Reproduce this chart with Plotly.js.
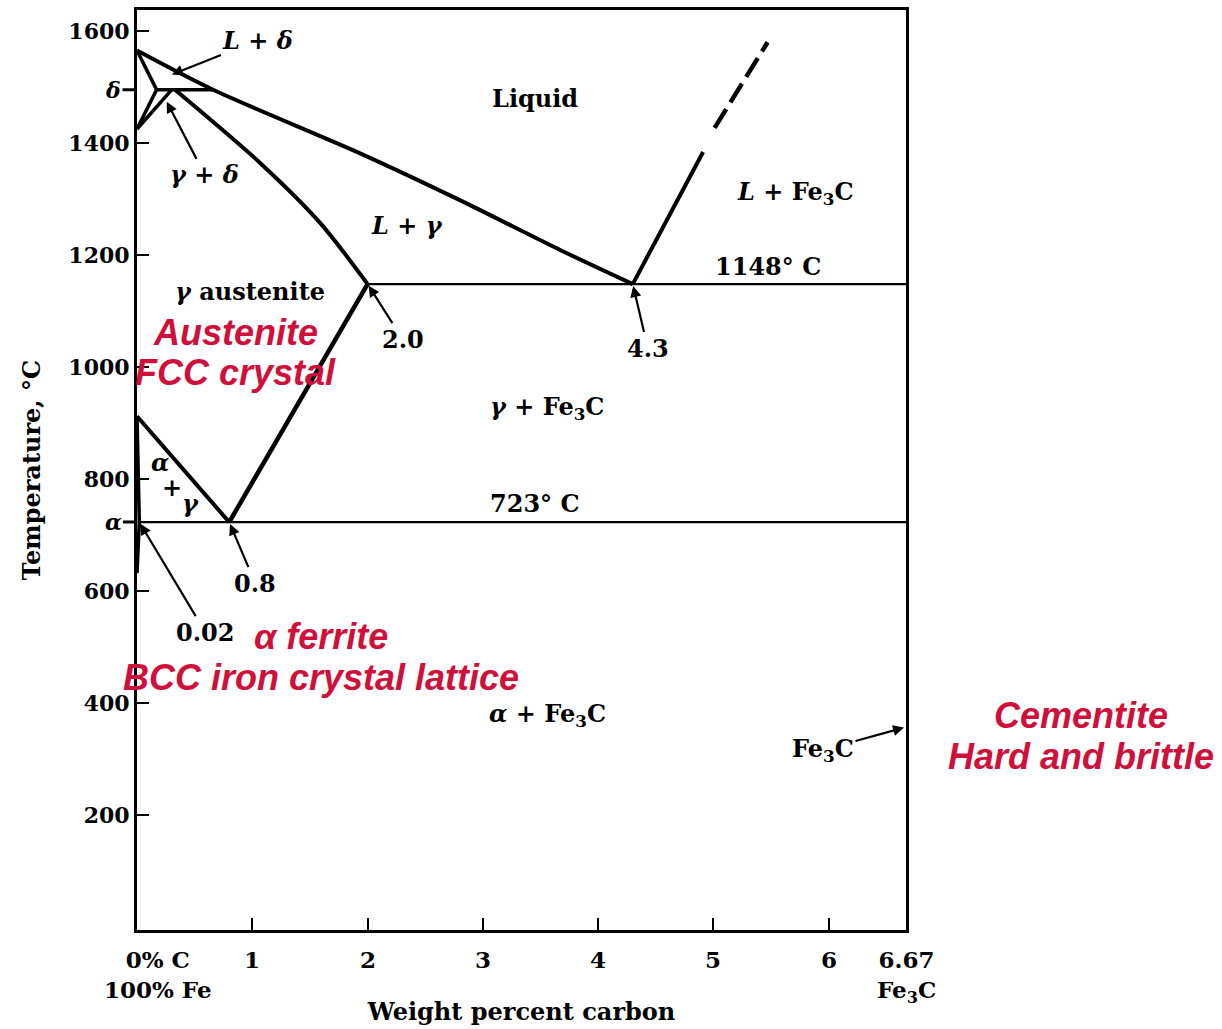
<!DOCTYPE html>
<html>
<head>
<meta charset="utf-8">
<script src="https://cdn.plot.ly/plotly-3.0.1.min.js"></script>
<style>
  html, body { margin: 0; padding: 0; background: #ffffff; }
  #chart { width: 1222px; height: 1029px; }
</style>
</head>
<body>
<div id="chart"></div>
<script>
// Iron–carbon (Fe–Fe3C) equilibrium diagram.
// Compositions in weight percent carbon, temperatures in °C.

// Liquidus from pure iron down to the eutectic
const liquidusC = [0, 0.66, 1.93, 2.80, 3.67, 4.3];
const liquidusT = [1565, 1495, 1382, 1298, 1209, 1148];

// Delta-iron field
const deltaSolidusC = [0, 0.17];
const deltaSolidusT = [1565, 1495];
const peritecticC = [0.17, 0.66];
const peritecticT = [1495, 1495];
const deltaBoundaryC = [0.17, 0];
const deltaBoundaryT = [1495, 1425];
const gammaDeltaC = [0.30, 0];
const gammaDeltaT = [1495, 1425];

// Austenite solidus
const solidusC = [0.33, 1.07, 1.59, 2.0];
const solidusT = [1495, 1364, 1257, 1148];

// Ferrite / austenite boundaries
const a3C = [0, 0.8];
const a3T = [912, 723];
const alphaGammaC = [0, 0.02];
const alphaGammaT = [912, 723];
const alphaSolvusC = [0.02, 0];
const alphaSolvusT = [723, 632];

// Carbon solubility in austenite (Acm)
const acmC = [0.8, 2.0];
const acmT = [723, 1148];

// Invariant isotherms
const eutecticC = [2.0, 6.67];
const eutecticT = [1148, 1148];
const eutectoidC = [0.02, 6.67];
const eutectoidT = [723, 723];

// Liquidus on the cementite side (solid, then extrapolated)
const cementiteLiqC = [4.3, 4.91];
const cementiteLiqT = [1148, 1384];
const cementiteLiqExtC = [5.01, 5.47];
const cementiteLiqExtT = [1427, 1580];

// Axis ticks
const xTickVals = [0, 1, 2, 3, 4, 5, 6, 6.67];
const xTickText = ['0% C<br>100% Fe', '1', '2', '3', '4', '5', '6', '6.67<br>Fe<sub>3</sub>C'];
const yTickVals = [200, 400, 600, 800, 1000, 1200, 1400, 1600];
const yTickText = ['200', '400', '600', '800', '1000', '1200', '1400', '1600'];

// Phase field names
const fieldText = ['Liquid', '<i>L</i> + <i>γ</i>', '<i>L</i> + Fe<sub>3</sub>C', '1148° C',
                   '<i>γ</i> austenite', '<i>γ</i> + Fe<sub>3</sub>C', '723° C', '<i>α</i> + Fe<sub>3</sub>C',
                   '<i>α</i>', '+', '<i>γ</i>'];
const fieldC = [3.45, 2.34, 5.71, 5.47, 0.98, 3.56, 3.45, 3.56, 0.20, 0.30, 0.46];
const fieldT = [1480, 1252, 1311, 1179, 1134, 927, 757, 379, 830, 784, 757];

// Labelled points (arrow tip at the point)
const pointText = ['<i>L</i> + <i>δ</i>', '<i>γ</i> + <i>δ</i>', '2.0', '4.3', '0.8', '0.02', 'Fe<sub>3</sub>C'];
const pointC = [0.286, 0.25, 2.0, 4.3, 0.8, 0.02, 6.67];
const pointT = [1521, 1477, 1148, 1148, 723, 723, 357];

// Extra temperature marks on the left axis
const markText = ['<i>δ</i>', '<i>α</i>'];
const markT = [1495, 723];

// Microstructure notes
const noteLines = [['Austenite', 'FCC crystal'], ['α ferrite', 'BCC iron crystal lattice'], ['Cementite', 'Hard and brittle']];
const noteC = [0.85, 1.60, null];
const noteT = [[1062, 991], [518, 446], [377, 304]];

// ---- styling ----
const SERIF = 'DejaVu Serif, Liberation Serif, serif';
const RED = '#d0103a';
const pointOffsets = [[88, -35], [39, 75], [35, 55], [15, 64], [26, 61], [66, 110], [-83, 23]];
const labelFont = { family: SERIF, size: 24, color: '#000', weight: 'bold' };

function seg(x, y, width, dash, shape) {
  return {
    x: x, y: y, type: 'scatter', mode: 'lines', hoverinfo: 'skip', showlegend: false,
    line: { color: '#000', width: width, dash: dash || 'solid', shape: shape || 'linear', smoothing: 0.8 }
  };
}

const traces = [
  seg(liquidusC, liquidusT, 4, null, 'spline'),
  seg(deltaSolidusC, deltaSolidusT, 3.5),
  seg(peritecticC, peritecticT, 3.5),
  seg(deltaBoundaryC, deltaBoundaryT, 3.5),
  seg(gammaDeltaC, gammaDeltaT, 3.5),
  seg(solidusC, solidusT, 4, null, 'spline'),
  seg(a3C, a3T, 4),
  seg(alphaGammaC, alphaGammaT, 3.5),
  seg(alphaSolvusC, alphaSolvusT, 3.5),
  seg(acmC, acmT, 4.5),
  seg(eutecticC, eutecticT, 2.2),
  seg(eutectoidC, eutectoidT, 2.2),
  seg(cementiteLiqC, cementiteLiqT, 4),
  seg(cementiteLiqExtC, cementiteLiqExtT, 4.5, '22px,8px')
];

const annotations = [];

// x tick labels
xTickVals.forEach(function (v, i) {
  annotations.push({
    x: v, y: 0, xref: 'x', yref: 'paper', yanchor: 'top', xanchor: 'center',
    xshift: i === 0 ? 21 : 0, yshift: -14,
    text: xTickText[i], showarrow: false,
    font: { family: SERIF, size: 23, color: '#000', weight: 'bold' }
  });
});

fieldText.forEach(function (t, i) {
  annotations.push({
    x: fieldC[i], y: fieldT[i], xref: 'x', yref: 'y', text: t, showarrow: false,
    font: labelFont
  });
});

pointText.forEach(function (t, i) {
  annotations.push({
    x: pointC[i], y: pointT[i], xref: 'x', yref: 'y', text: t,
    showarrow: true, arrowhead: 2, arrowsize: 1, arrowwidth: 2.2, arrowcolor: '#000',
    ax: pointOffsets[i][0], ay: pointOffsets[i][1], standoff: 2,
    font: labelFont
  });
});

markText.forEach(function (t, i) {
  annotations.push({
    x: 0, y: markT[i], xref: 'x', yref: 'y', text: t,
    showarrow: true, arrowhead: 0, arrowwidth: 3, arrowcolor: '#000',
    ax: -24, ay: 0, standoff: 0,
    font: { family: SERIF, size: 22, color: '#000', weight: 'bold' }
  });
});

noteLines.forEach(function (lines, i) {
  lines.forEach(function (line, j) {
    const a = {
      y: noteT[i][j], yref: 'y', text: '<b><i>' + line + '</i></b>', showarrow: false,
      xanchor: 'center',
      font: { family: 'Liberation Sans, Arial, sans-serif', size: 36, color: RED }
    };
    if (noteC[i] === null) { a.xref = 'paper'; a.x = 1.2276; }
    else { a.xref = 'x'; a.x = noteC[i]; }
    annotations.push(a);
  });
});

const layout = {
  width: 1222, height: 1029,
  margin: { l: 137, r: 316, t: 10, b: 99 },
  paper_bgcolor: '#fff', plot_bgcolor: '#fff',
  showlegend: false,
  xaxis: {
    range: [0, 6.67], showgrid: false, zeroline: false,
    showline: true, mirror: true, linecolor: '#000', linewidth: 3,
    ticks: 'inside', ticklen: 12, tickwidth: 2, tickcolor: '#000',
    tickvals: [1, 2, 3, 4, 5, 6], showticklabels: false,
    title: { text: 'Weight percent carbon', standoff: 72,
             font: { family: SERIF, size: 24, color: '#000', weight: 'bold' } }
  },
  yaxis: {
    range: [-5.4, 1637.5], showgrid: false, zeroline: false,
    showline: true, mirror: true, linecolor: '#000', linewidth: 3,
    ticks: 'inside', ticklen: 12, tickwidth: 2, tickcolor: '#000',
    tickvals: yTickVals, ticktext: yTickText,
    tickfont: { family: SERIF, size: 22, color: '#000', weight: 'bold' },
    title: { text: 'Temperature, °C', standoff: 21,
             font: { family: SERIF, size: 24, color: '#000', weight: 'bold' } }
  },
  annotations: annotations
};

Plotly.newPlot('chart', traces, layout, { displayModeBar: false, staticPlot: true });
</script>
</body>
</html>
